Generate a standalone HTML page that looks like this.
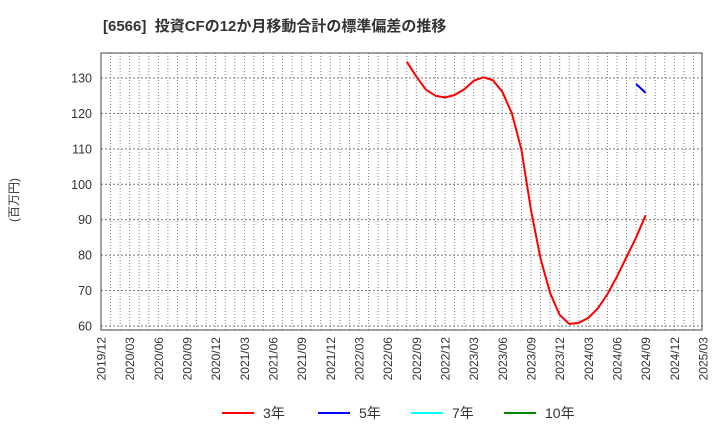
<!DOCTYPE html>
<html><head><meta charset="utf-8"><style>
body{margin:0;background:#fff;font-family:"Liberation Sans","Noto Sans CJK JP",sans-serif;}
</style></head><body>
<svg width="720" height="440" xmlns="http://www.w3.org/2000/svg" id="chart" font-family="Liberation Sans, Noto Sans CJK JP, sans-serif">
<text x="103" y="31" font-size="15" font-weight="bold" fill="#333" xml:space="preserve">[6566]  投資CFの12か月移動合計の標準偏差の推移</text>
<text transform="translate(18,200) rotate(-90)" font-size="12" fill="#333" text-anchor="middle">(百万円)</text>
<g id="grid"></g><g id="yt"></g><g id="xt"></g><g id="series"></g>
<rect x="101" y="53" width="601" height="277" fill="none" stroke="#444" stroke-width="1"/>
<g font-size="14" fill="#333">
<line x1="222" y1="413" x2="254" y2="413" stroke="#f00" stroke-width="2"/><text x="263" y="418">3年</text>
<line x1="318" y1="413" x2="350" y2="413" stroke="#00f" stroke-width="2"/><text x="359" y="418">5年</text>
<line x1="411" y1="413" x2="443" y2="413" stroke="#0ff" stroke-width="2"/><text x="452" y="418">7年</text>
<line x1="504" y1="413" x2="536" y2="413" stroke="#080" stroke-width="2"/><text x="545" y="418">10年</text>
</g>
</svg>
<script>
const yTicks=[60,70,80,90,100,110,120,130];
const xTickLabels=["2019/12","2020/03","2020/06","2020/09","2020/12","2021/03","2021/06","2021/09","2021/12","2022/03","2022/06","2022/09","2022/12","2023/03","2023/06","2023/09","2023/12","2024/03","2024/06","2024/09","2024/12","2025/03"];
const red3Start=32;
const red3=[134.6,130.4,126.7,125.0,124.5,125.2,126.8,129.2,130.2,129.4,126.1,120,109.7,92.7,79,69.3,63.1,60.6,60.9,62.3,65,69,74,79.5,85,91.3];
const blue5Start=56;
const blue5=[128.3,125.8];
const NS="http://www.w3.org/2000/svg";
const X0=101,XM=9.556,Y130=78,YU=3.543;
const xs=m=>X0+m*XM, ys=v=>Y130+(130-v)*YU;
function mk(t,a,p){const e=document.createElementNS(NS,t);for(const k in a)e.setAttribute(k,a[k]);p.appendChild(e);return e;}
const grid=document.getElementById('grid');
for(let m=1;m<63;m++){
 const l=mk('line',{x1:xs(m),x2:xs(m),y1:53,y2:330,stroke:'#888','stroke-width':1,'stroke-dasharray':'1,2'},grid);
 
 
}
const yt=document.getElementById('yt');
yTicks.forEach(v=>{
 const l=mk('line',{x1:101,x2:702,y1:ys(v),y2:ys(v),stroke:'#777','stroke-width':1,'stroke-dasharray':'2,2'},grid);
 
 
 const t=mk('text',{x:92,y:ys(v)+4.5,'font-size':12.5,fill:'#333','text-anchor':'end'},yt);
 t.textContent=v;
 
 
});
const xt=document.getElementById('xt');
xTickLabels.forEach((s,i)=>{
 const x=xs(i*3);
 const t=mk('text',{transform:`translate(${x+4.5},${337}) rotate(-90)`,'font-size':12,fill:'#333','text-anchor':'end'},xt);
 t.textContent=s;
 
 
});
const ser=document.getElementById('series');
function line(data,start,color,name){
 const p=mk('polyline',{points:data.map((v,i)=>xs(start+i)+','+ys(v)).join(' '),fill:'none',stroke:color,'stroke-width':2,'stroke-linejoin':'round'},ser);
 
 
}
line(red3,red3Start,'#f00','series-3y');
line(blue5,blue5Start,'#00f','series-5y');
</script>
</body></html>
